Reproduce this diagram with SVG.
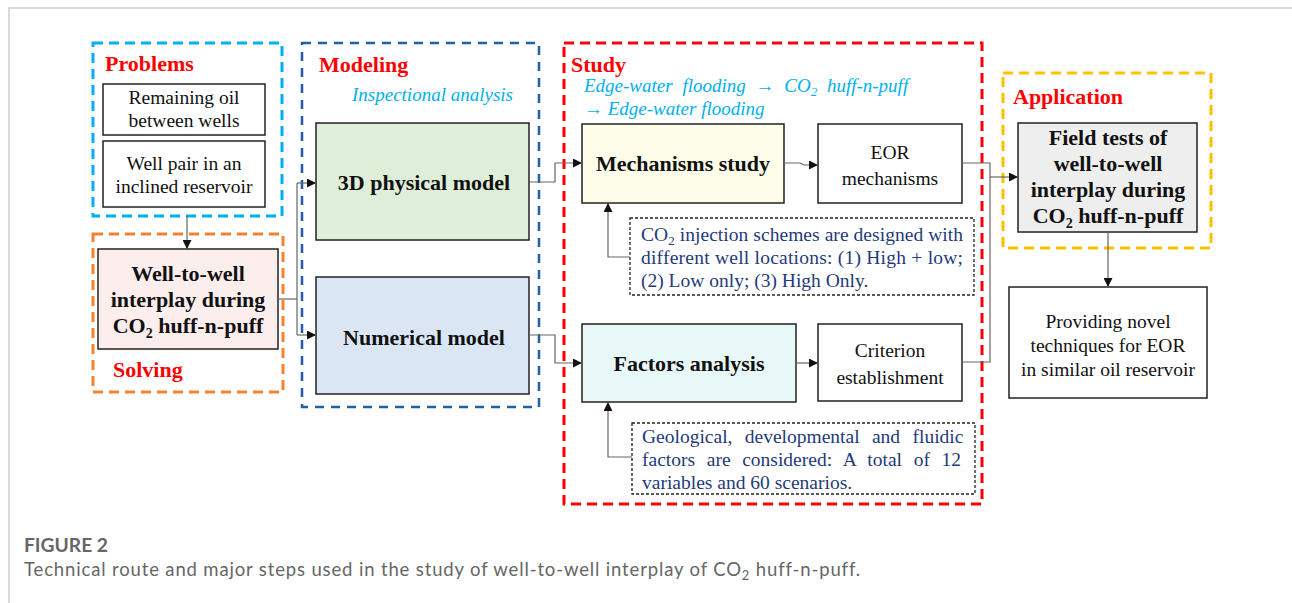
<svg xmlns="http://www.w3.org/2000/svg" width="1292" height="603" viewBox="0 0 1292 603">
<style>
.title{font-family:"Liberation Serif",serif;font-weight:bold;font-size:22px;fill:#ff0000}
.bold{font-family:"Liberation Serif",serif;font-weight:bold;font-size:22px;fill:#111}
.reg{font-family:"Liberation Serif",serif;font-size:19.5px;fill:#111}
.ital{font-family:"Liberation Serif",serif;font-style:italic;font-size:19px;fill:#00b0f0}
.navy{font-family:"Liberation Serif",serif;font-size:19.5px;fill:#1f3a7a}
.box{stroke:#222;stroke-width:1.5}
.dot{fill:#fff;stroke:#222;stroke-width:1.3;stroke-dasharray:3 2}
.conn{fill:none;stroke:#666;stroke-width:1.2}
.cap{font-family:Lato,"Open Sans",sans-serif;fill:#666}
</style>
<defs>
<marker id="ah" viewBox="0 0 10 10" refX="10" refY="5" markerWidth="9" markerHeight="9" markerUnits="userSpaceOnUse" orient="auto">
<path d="M0,0 L10,5 L0,10 z" fill="#111"/>
</marker>
</defs>
<rect width="1292" height="603" fill="#fff"/>
<path d="M9,603 V8 H1292" fill="none" stroke="#d0d0d0" stroke-width="1.5"/>

<g id="problems">
<rect x="93" y="43" width="189" height="173" fill="none" stroke="#00b0f0" stroke-width="3" stroke-dasharray="10 6"/>
<text class="title" x="105" y="71">Problems</text>
<rect class="box" x="103" y="84" width="162" height="51" fill="#fff"/>
<text class="reg" x="184" y="104" text-anchor="middle">Remaining oil</text>
<text class="reg" x="184" y="127" text-anchor="middle">between wells</text>
<rect class="box" x="103" y="141" width="162" height="66" fill="#fff"/>
<text class="reg" x="184" y="170" text-anchor="middle">Well pair in an</text>
<text class="reg" x="184" y="193" text-anchor="middle">inclined reservoir</text>
</g>

<g id="solving">
<rect x="93" y="234" width="190" height="158" fill="none" stroke="#f58232" stroke-width="3" stroke-dasharray="10 6"/>
<rect class="box" x="98" y="249" width="180" height="100" fill="#fdeeee"/>
<text class="bold" x="188" y="281" text-anchor="middle">Well-to-well</text>
<text class="bold" x="188" y="307" text-anchor="middle">interplay during</text>
<text class="bold" x="188" y="333" text-anchor="middle">CO<tspan font-size="14" dy="5">2</tspan><tspan dy="-5"> huff-n-puff</tspan></text>
<text class="title" x="113" y="377">Solving</text>
</g>

<g id="modeling">
<rect x="302" y="43" width="237" height="364" fill="none" stroke="#1f5ea8" stroke-width="2.5" stroke-dasharray="9 7"/>
<text class="title" x="319" y="72">Modeling</text>
<text class="ital" x="352" y="101">Inspectional analysis</text>
</g>

<g id="physical-model">
<rect class="box" x="316" y="123" width="213" height="117" fill="#dfeed9"/>
<text class="bold" x="424" y="190" text-anchor="middle">3D physical model</text>
</g>

<g id="numerical-model">
<rect class="box" x="316" y="277" width="213" height="117" fill="#dbe6f4"/>
<text class="bold" x="424" y="345" text-anchor="middle">Numerical model</text>
</g>

<g id="study">
<rect x="564" y="43" width="418" height="461" fill="none" stroke="#ff0000" stroke-width="3" stroke-dasharray="10 6"/>
<text class="title" x="571" y="72">Study</text>
<text class="ital" x="584" y="92" word-spacing="5">Edge-water flooding → CO<tspan font-size="13" dy="4">2</tspan><tspan dy="-4"> huff-n-puff</tspan></text>
<text class="ital" x="584" y="115">→ Edge-water flooding</text>
</g>

<g id="mechanisms-study">
<rect class="box" x="582" y="124" width="202" height="79" fill="#fdfdea"/>
<text class="bold" x="683" y="171" text-anchor="middle">Mechanisms study</text>
</g>

<g id="eor-mechanisms">
<rect class="box" x="818" y="124" width="144" height="79" fill="#fff"/>
<text class="reg" x="890" y="159" text-anchor="middle">EOR</text>
<text class="reg" x="890" y="185" text-anchor="middle">mechanisms</text>
</g>

<g id="co2-schemes">
<rect class="dot" x="630" y="218" width="344" height="77"/>
<text class="navy" x="641" y="241" textLength="322" lengthAdjust="spacing">CO<tspan font-size="13" dy="4">2</tspan><tspan dy="-4"> injection schemes are designed with</tspan></text>
<text class="navy" x="641" y="264" textLength="322" lengthAdjust="spacing">different well locations: (1) High + low;</text>
<text class="navy" x="641" y="287">(2) Low only; (3) High Only.</text>
</g>

<g id="factors-analysis">
<rect class="box" x="582" y="324" width="214" height="78" fill="#e8f7f8"/>
<text class="bold" x="689" y="371" text-anchor="middle">Factors analysis</text>
</g>

<g id="criterion">
<rect class="box" x="818" y="324" width="144" height="77" fill="#fff"/>
<text class="reg" x="890" y="357" text-anchor="middle">Criterion</text>
<text class="reg" x="890" y="384" text-anchor="middle">establishment</text>
</g>

<g id="factors-note">
<rect class="dot" x="632" y="423" width="343" height="71"/>
<text class="navy" x="642" y="443" word-spacing="7.5">Geological, developmental and fluidic</text>
<text class="navy" x="642" y="466" word-spacing="6.8">factors are considered:  A total of 12</text>
<text class="navy" x="642" y="489">variables and 60 scenarios.</text>
</g>

<g id="application">
<rect x="1003" y="73" width="208" height="175" fill="none" stroke="#ffc000" stroke-width="3" stroke-dasharray="10 6"/>
<text class="title" x="1013" y="104">Application</text>
<rect class="box" x="1018" y="123" width="179" height="109" fill="#eeeeee"/>
<text class="bold" x="1108" y="145" text-anchor="middle">Field tests of</text>
<text class="bold" x="1108" y="171" text-anchor="middle">well-to-well</text>
<text class="bold" x="1108" y="197" text-anchor="middle">interplay during</text>
<text class="bold" x="1108" y="223" text-anchor="middle">CO<tspan font-size="14" dy="5">2</tspan><tspan dy="-5"> huff-n-puff</tspan></text>
</g>

<g id="providing">
<rect class="box" x="1009" y="287" width="198" height="111" fill="#fff"/>
<text class="reg" x="1108" y="328" text-anchor="middle">Providing novel</text>
<text class="reg" x="1108" y="352" text-anchor="middle">techniques for EOR</text>
<text class="reg" x="1108" y="376" text-anchor="middle">in similar oil reservoir</text>
</g>

<g id="connectors">
<path class="conn" d="M187,216 V249" marker-end="url(#ah)"/>
<path class="conn" d="M278,299 H297"/>
<path class="conn" d="M297,183 V335"/>
<path class="conn" d="M297,183 H316" marker-end="url(#ah)"/>
<path class="conn" d="M297,335 H316" marker-end="url(#ah)"/>
<path class="conn" d="M529,182 H555 V163 H582" marker-end="url(#ah)"/>
<path class="conn" d="M529,335 H555 V363 H582" marker-end="url(#ah)"/>
<path class="conn" d="M784,163 H800 L804,165 H818" marker-end="url(#ah)"/>
<path class="conn" d="M796,363 H818" marker-end="url(#ah)"/>
<path class="conn" d="M630,257 H608 V203" marker-end="url(#ah)"/>
<path class="conn" d="M632,457 H608 V402" marker-end="url(#ah)"/>
<path class="conn" d="M962,163 H990 V362 H962"/>
<path class="conn" d="M990,177 H1018" marker-end="url(#ah)"/>
<path class="conn" d="M1108,232 V287" marker-end="url(#ah)"/>
</g>

<text class="cap" x="24" y="552" font-size="19" font-weight="bold" fill="#555" textLength="84" lengthAdjust="spacingAndGlyphs">FIGURE 2</text>
<text class="cap" x="24" y="576" font-size="18.5" letter-spacing="0.85">Technical route and major steps used in the study of well-to-well interplay of CO<tspan font-size="13" dy="4">2</tspan><tspan dy="-4"> huff-n-puff.</tspan></text>
</svg>
